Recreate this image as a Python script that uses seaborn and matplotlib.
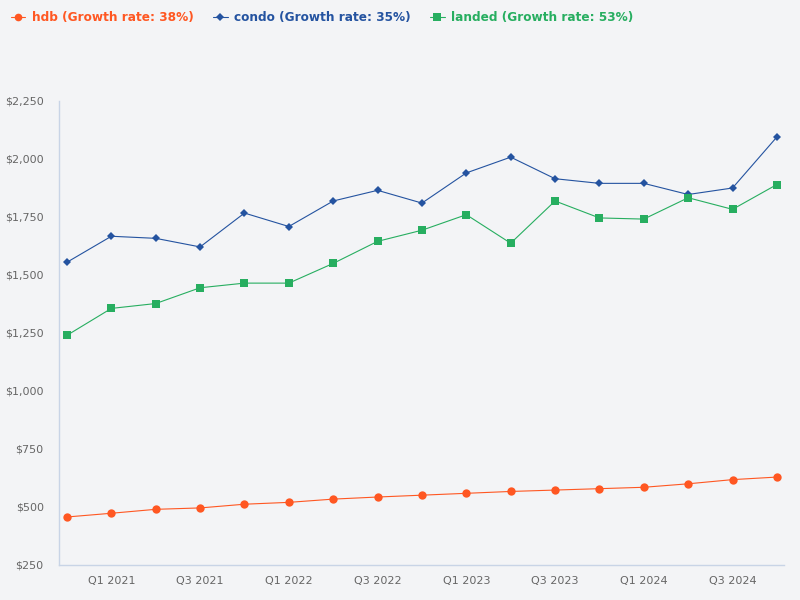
import matplotlib
matplotlib.use("Agg")
import matplotlib.pyplot as plt
import seaborn as sns
import pandas as pd
import numpy as np
from matplotlib.ticker import FuncFormatter

quarters = ["Q4 2020", "Q1 2021", "Q2 2021", "Q3 2021", "Q4 2021",
            "Q1 2022", "Q2 2022", "Q3 2022", "Q4 2022",
            "Q1 2023", "Q2 2023", "Q3 2023", "Q4 2023",
            "Q1 2024", "Q2 2024", "Q3 2024", "Q4 2024"]
hdb = [457, 473, 490, 496, 512, 520, 534, 543, 551, 559, 567, 573, 579, 585, 600, 618, 629]
condo = [1555, 1667, 1658, 1621, 1767, 1709, 1819, 1865, 1810, 1940, 2008, 1915, 1895, 1895, 1847, 1875, 2095]
landed = [1240, 1356, 1377, 1445, 1465, 1465, 1550, 1645, 1693, 1760, 1637, 1819, 1746, 1741, 1833, 1783, 1890]
series_names = ["hdb", "condo", "landed"]
growth_rates = [38, 35, 53]
colors = {"hdb": "#ff5722", "condo": "#2453a0", "landed": "#27ae60"}
markers = {"hdb": "o", "condo": "D", "landed": "s"}
msizes = {"hdb": 6, "condo": 4.5, "landed": 6}

df = pd.DataFrame({
    "idx": list(range(len(quarters))) * 3,
    "quarter": quarters * 3,
    "value": hdb + condo + landed,
    "series": ["hdb"] * len(hdb) + ["condo"] * len(condo) + ["landed"] * len(landed),
})

sns.set_theme(style="white")
plt.rcParams["font.family"] = ["DejaVu Sans"]
bg = "#f3f4f6"
fig = plt.figure(figsize=(8, 6), dpi=100, facecolor=bg)
ax = fig.add_axes([59 / 800, 1 - 565 / 600, (784 - 59) / 800, (565 - 101) / 600])
ax.set_facecolor(bg)

for name in series_names:
    sub = df[df["series"] == name]
    sns.lineplot(data=sub, x="idx", y="value", ax=ax, color=colors[name],
                 marker=markers[name], markersize=msizes[name],
                 markeredgewidth=0, linewidth=0.8, legend=False)

ax.set_xlim(-0.18, len(quarters) - 1 + 0.16)
ax.set_ylim(250, 2250)
ax.set_yticks(np.arange(250, 2251, 250))
ax.yaxis.set_major_formatter(FuncFormatter(lambda v, p: f"${v:,.0f}"))
tick_idx = [i for i, q in enumerate(quarters) if q.startswith("Q1") or q.startswith("Q3")]
ax.set_xticks(tick_idx)
ax.set_xticklabels([quarters[i] for i in tick_idx])
ax.tick_params(axis="both", length=0, labelsize=8, labelcolor="#666666")
ax.tick_params(axis="y", pad=11)
ax.tick_params(axis="x", pad=8)
ax.set_xlabel("")
ax.set_ylabel("")
ax.grid(False)
for s in ["top", "right"]:
    ax.spines[s].set_visible(False)
for s in ["left", "bottom"]:
    ax.spines[s].set_color("#c8d4e6")
    ax.spines[s].set_linewidth(1)

handles = []
labels = []
for name, g in zip(series_names, growth_rates):
    h = plt.Line2D([], [], color=colors[name], marker=markers[name],
                   markersize=msizes[name] - 0.5, markeredgewidth=0, linewidth=0.8)
    handles.append(h)
    labels.append(f"{name} (Growth rate: {g}%)")

leg = fig.legend(handles, labels, loc="upper left", bbox_to_anchor=(0.0, 1.0),
                 ncol=3, frameon=False, fontsize=8.7, handlelength=1.2,
                 handletextpad=0.55, columnspacing=1.6, borderaxespad=0.55,
                 borderpad=0.35)
for t, name in zip(leg.get_texts(), series_names):
    t.set_color(colors[name])
    t.set_fontweight("bold")

fig.savefig("out.png", dpi=100, facecolor=bg)
